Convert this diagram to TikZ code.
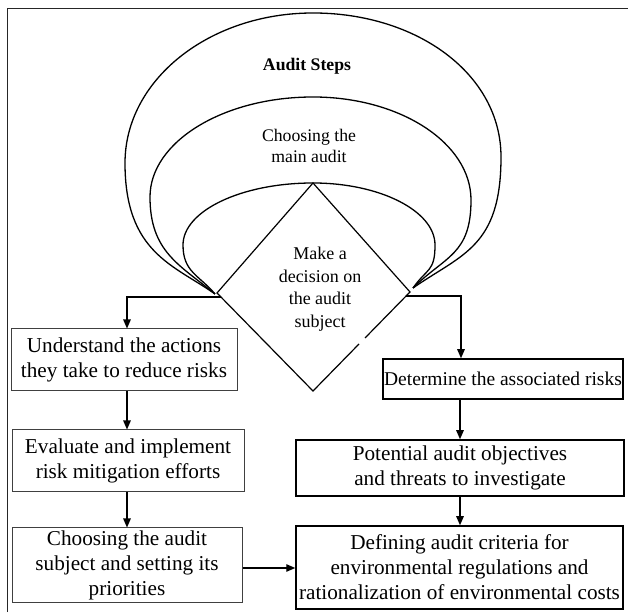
\documentclass[tikz,border=0pt]{standalone}
\usepackage{fontspec}
\setmainfont{Liberation Serif}
\usetikzlibrary{arrows.meta}
\begin{document}
\begin{tikzpicture}[x=1pt,y=1pt,
  curve/.style={line width=1.3pt},
  lbox/.style={draw=black!75, line width=1pt, inner sep=0pt, align=center, font=\fontsize{21.2}{25}\selectfont},
  rbox/.style={draw=black, line width=1.5pt, inner sep=0pt, align=center, font=\fontsize{21.2}{25}\selectfont},
  arr/.style={-{Triangle[length=9pt,width=7.5pt]}, line width=1.2pt},
  lbl/.style={align=center, inner sep=0pt, font=\fontsize{17.7}{21.5}\selectfont}]
\useasboundingbox (0,0) rectangle (628,612);
% frame
\coordinate (fb) at (7,0);
\coordinate (fc) at (7,603);
\coordinate (fr) at (628,603);
\draw[line width=1pt, black!85] (fb) -- (fc) -- (fr);
% convergence points
\coordinate (L) at (215,318);
\coordinate (R) at (413,324);
% outer curve
\draw[curve] (L) .. controls (174,347) and (125,359) .. (125,449)
  .. controls (125,532) and (209,599) .. (313,599)
  .. controls (417,599) and (501,538) .. (501,455)
  .. controls (501,365) and (462,358) .. (R);
% middle curve
\draw[curve] (L) .. controls (180,347) and (150,360) .. (150,415)
  .. controls (150,470) and (223,515) .. (313,515)
  .. controls (400,515) and (471,469) .. (471,412)
  .. controls (471,357) and (445,356) .. (R);
% inner curve
\draw[curve] (L) .. controls (199,337) and (183,340) .. (183,367)
  .. controls (183,401) and (241,429) .. (313,429)
  .. controls (380,429) and (435,401) .. (435,367)
  .. controls (435,340) and (427,344) .. (R);
% diamond
\coordinate (dT) at (313,429);
\coordinate (dL) at (217,319);
\coordinate (dB) at (313,221);
\coordinate (dR) at (410,320);
\coordinate (gA) at (365,274);
\coordinate (gB) at (359,268);
\draw[line width=1.2pt, line join=miter] (gA) -- (dR) -- (dT) -- (dL) -- (dB) -- (gB);
% labels in curves
\node[lbl, font=\fontsize{17.7}{21.5}\selectfont\bfseries] (steps) at (307,546) {Audit Steps};
\node[lbl] (main) at (309,466) {Choosing the\\main audit};
\node[lbl, font=\fontsize{18}{22.5}\selectfont] (dec) at (320,323) {Make a\\decision on\\the audit\\subject};
% boxes
\node[lbl, lbox, minimum width=226pt, minimum height=62pt] (b1) at (124,252) {Understand the actions\\they take to reduce risks};
\node[lbl, lbox, minimum width=232pt, minimum height=62pt] (b2) at (128,151) {Evaluate and implement\\risk mitigation efforts};
\node[lbl, lbox, minimum width=230pt, minimum height=75pt] (b3) at (127,46.5) {Choosing the audit\\subject and setting its\\priorities};
\node[lbl, rbox, font=\fontsize{19.5}{25}\selectfont, minimum width=240pt, minimum height=40pt] (b4) at (503,233) {Determine the associated risks};
\node[lbl, rbox, minimum width=328pt, minimum height=56pt] (b5) at (460,144) {Potential audit objectives\\and threats to investigate};
\node[lbl, rbox, minimum width=327pt, minimum height=83pt] (b6) at (459.5,44.5) {Defining audit criteria for\\environmental regulations and\\rationalization of environmental costs};
% connectors
\coordinate (jl) at (221,315);
\coordinate (jr) at (406,316);
\coordinate (colL) at (127,0);
\coordinate (colR) at (460,0);
\coordinate (colR2) at (461,0);
\coordinate (rowA) at (0,44);
\draw[arr] (jl) -| (b1.north -| colL);
\draw[arr] (b1.south -| colL) -- (b2.north -| colL);
\draw[arr] (b2.south -| colL) -- (b3.north -| colL);
\draw[arr] (b3.east |- rowA) -- (b6.west |- rowA);
\draw[arr] (jr) -| (b4.north -| colR2);
\draw[arr] (b4.south -| colR) -- (b5.north -| colR);
\draw[arr] (b5.south -| colR) -- (b6.north -| colR);
\end{tikzpicture}
\end{document}
